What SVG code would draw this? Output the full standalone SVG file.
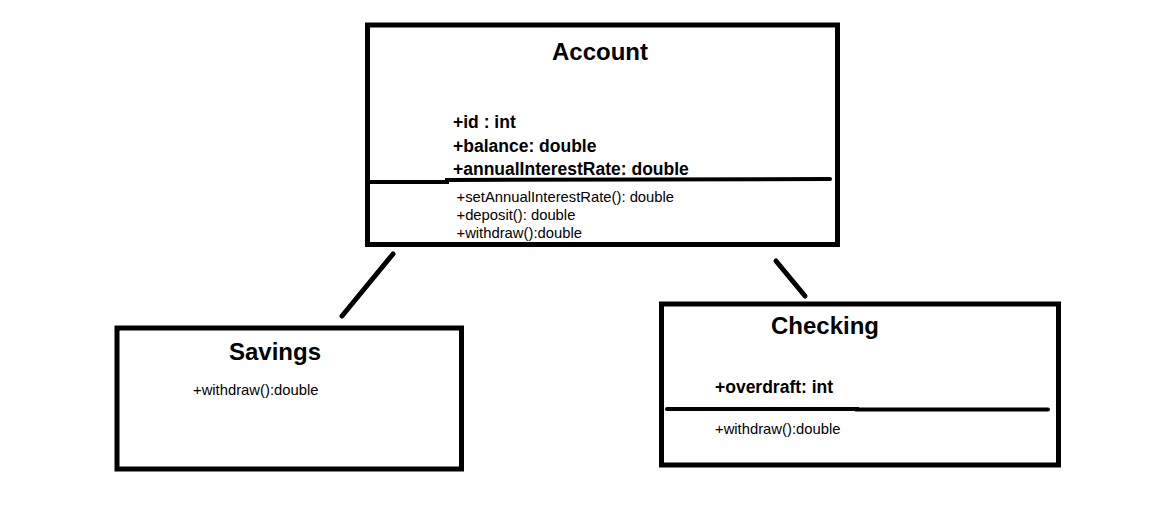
<svg xmlns="http://www.w3.org/2000/svg" width="1164" height="522" viewBox="0 0 1164 522">
<style>
.box{fill:#fff;stroke:#000;stroke-width:5}
.div{fill:none;stroke:#000;stroke-width:4;stroke-linecap:round}
.conn{stroke:#000;stroke-width:5;stroke-linecap:round}
.title{font-family:"Liberation Sans",Arial,sans-serif;font-weight:bold;font-size:24px;fill:#000}
.attr{font-family:"Liberation Sans",Arial,sans-serif;font-weight:bold;font-size:17.5px;fill:#000}
.meth{font-family:"Liberation Sans",Arial,sans-serif;font-size:14.8px;fill:#000}
</style>
<rect width="1164" height="522" fill="#fff"/>
<g id="connectors">
<line class="conn" x1="393" y1="254" x2="342" y2="316"/>
<line class="conn" x1="776" y1="261" x2="805" y2="296"/>
</g>
<g id="account">
<rect class="box" x="367.5" y="25" width="470" height="219.5"/>
<text class="title" x="552" y="60">Account</text>
<text class="attr" x="453" y="128">+id : int</text>
<text class="attr" x="453" y="151.5">+balance: double</text>
<text class="attr" x="453" y="174.5">+annualInterestRate: double</text>
<polyline class="div" points="370,182 447,182 447,180 830,179"/>
<text class="meth" x="456.5" y="201.5">+setAnnualInterestRate(): double</text>
<text class="meth" x="456.5" y="219.5">+deposit(): double</text>
<text class="meth" x="456.5" y="237.5">+withdraw():double</text>
</g>
<g id="savings">
<rect class="box" x="117" y="328" width="344.5" height="141"/>
<text class="title" x="229" y="360">Savings</text>
<text class="meth" x="193" y="395" font-size="15.5">+withdraw():double</text>
</g>
<g id="checking">
<rect class="box" x="661.5" y="304" width="397" height="161"/>
<text class="title" x="771" y="333.5">Checking</text>
<text class="attr" x="715" y="392.5">+overdraft: int</text>
<polyline class="div" points="667,409 857,409 857,409.5 1048,409.5"/>
<text class="meth" x="715" y="433.5" font-size="15.5">+withdraw():double</text>
</g>
</svg>
